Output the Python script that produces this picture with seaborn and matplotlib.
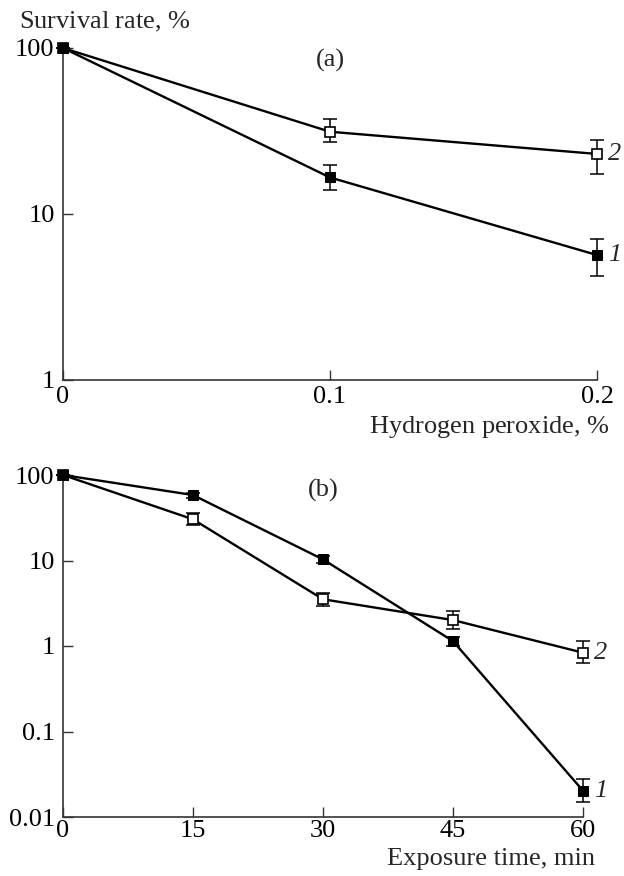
import numpy as np
import pandas as pd
import matplotlib
matplotlib.use("Agg")
import matplotlib.pyplot as plt
import seaborn as sns

# ---- data ----
h2o2_conc = [0.0, 0.1, 0.2]
a_s1 = [100.0, 16.6, 5.66]
a_s1_lo = [0.0, 2.7, 1.41]
a_s1_hi = [0.0, 3.1, 1.44]
a_s2 = [100.0, 31.3, 23.0]
a_s2_lo = [0.0, 4.3, 5.6]
a_s2_hi = [0.0, 5.9, 4.9]

exp_time = [0, 15, 30, 45, 60]
b_s1 = [100.0, 58.3, 10.3, 1.14, 0.0203]
b_s1_lo = [0.0, 4.6, 0.9, 0.14, 0.0053]
b_s1_hi = [0.0, 3.6, 1.0, 0.14, 0.0077]
b_s2 = [100.0, 30.3, 3.52, 2.01, 0.835]
b_s2_lo = [0.0, 4.5, 0.56, 0.42, 0.208]
b_s2_hi = [0.0, 5.9, 0.68, 0.58, 0.315]

a_yticks = [1, 10, 100]
a_yticklabels = ["1", "10", "100"]
a_xticks = [0, 0.1, 0.2]
a_xticklabels = ["0", "0.1", "0.2"]
b_yticks = [0.01, 0.1, 1, 10, 100]
b_yticklabels = ["0.01", "0.1", "1", "10", "100"]
b_xticks = [0, 15, 30, 45, 60]
b_xticklabels = ["0", "15", "30", "45", "60"]
series_names = ["1", "2"]

# ---- style ----
sns.set_style("ticks")
plt.rcParams["font.family"] = ["Liberation Serif", "DejaVu Serif"]
plt.rcParams["mathtext.fontset"] = "custom"
plt.rcParams["mathtext.rm"] = "Liberation Serif"
plt.rcParams["mathtext.it"] = "Liberation Serif:italic"
FS = 19
AXC = "#333333"

fig = plt.figure(figsize=(6.24, 8.76), dpi=100)
W, H = 624, 876
ax_a = fig.add_axes([63 / W, 1 - 380 / H, (597 - 63) / W, (380 - 48) / H])
ax_b = fig.add_axes([63 / W, 1 - 817 / H, (583 - 63) / W, (817 - 475) / H])


def draw_panel(ax, x, s1, s1lo, s1hi, s2, s2lo, s2hi):
    df = pd.DataFrame({
        "x": list(x) * 2,
        "y": list(s1) + list(s2),
        "series": [series_names[0]] * len(x) + [series_names[1]] * len(x),
    })
    sns.lineplot(data=df[df.series == "2"], x="x", y="y", ax=ax, color="black",
                 lw=1.7, marker="s", markersize=7, markerfacecolor="white",
                 markeredgecolor="black", markeredgewidth=1.2, legend=False, zorder=3)
    ax.errorbar(x, s2, yerr=[s2lo, s2hi], fmt="none", ecolor="black",
                elinewidth=1.1, capsize=5, capthick=1.1, zorder=2)
    sns.lineplot(data=df[df.series == "1"], x="x", y="y", ax=ax, color="black",
                 lw=1.7, marker="s", markersize=7, markerfacecolor="black",
                 markeredgecolor="black", legend=False, zorder=4)
    ax.errorbar(x, s1, yerr=[s1lo, s1hi], fmt="none", ecolor="black",
                elinewidth=1.1, capsize=5, capthick=1.1, zorder=2)
    for art in list(ax.lines) + list(ax.collections):
        art.set_clip_on(False)
    ax.set_yscale("log")
    for sp in ["top", "right"]:
        ax.spines[sp].set_visible(False)
    for sp in ["left", "bottom"]:
        ax.spines[sp].set_color(AXC)
        ax.spines[sp].set_linewidth(1.2)
        ax.spines[sp].set_zorder(1)
    ax.minorticks_off()
    ax.tick_params(axis="both", which="major", direction="in", length=7,
                   width=1.0, color=AXC, labelsize=FS, labelcolor="black")
    ax.tick_params(axis="y", pad=6)
    ax.set_xlabel("")
    ax.set_ylabel("")
    ax.annotate(series_names[1], (x[-1], s2[-1]), xytext=(8, 0),
                textcoords="offset points", va="center", ha="left",
                fontsize=FS, style="italic")
    ax.annotate(series_names[0], (x[-1], s1[-1]), xytext=(8, 0),
                textcoords="offset points", va="center", ha="left",
                fontsize=FS, style="italic")


draw_panel(ax_a, h2o2_conc, a_s1, a_s1_lo, a_s1_hi, a_s2, a_s2_lo, a_s2_hi)
ax_a.set_xlim(0, 0.2)
ax_a.set_ylim(1, 100)
ax_a.set_yticks(a_yticks, a_yticklabels)
ax_a.set_xticks(a_xticks, a_xticklabels)
ax_a.tick_params(axis="x", pad=4)
ax_a.minorticks_off()
ax_a.text(0.5, 0.962, "(a)", transform=ax_a.transAxes, ha="center", va="center", fontsize=FS)

draw_panel(ax_b, exp_time, b_s1, b_s1_lo, b_s1_hi, b_s2, b_s2_lo, b_s2_hi)
ax_b.set_xlim(0, 60)
ax_b.set_ylim(0.01, 100)
ax_b.set_yticks(b_yticks, b_yticklabels)
ax_b.set_xticks(b_xticks, b_xticklabels)
ax_b.tick_params(axis="x", pad=2)
ax_b.minorticks_off()
ax_b.text(0.5, 0.956, "(b)", transform=ax_b.transAxes, ha="center", va="center", fontsize=FS)

fig.text(19 / W, 1 - 22 / H, r"Survival rate, $\mathit{\%}$", ha="left", va="center", fontsize=FS)
fig.text(610 / W, 1 - 427 / H, r"Hydrogen peroxide, $\mathit{\%}$", ha="right", va="center", fontsize=FS)
fig.text(595 / W, 1 - 859 / H, "Exposure time, min", ha="right", va="center", fontsize=FS)

fig.savefig("out.png", dpi=100, facecolor="white")
